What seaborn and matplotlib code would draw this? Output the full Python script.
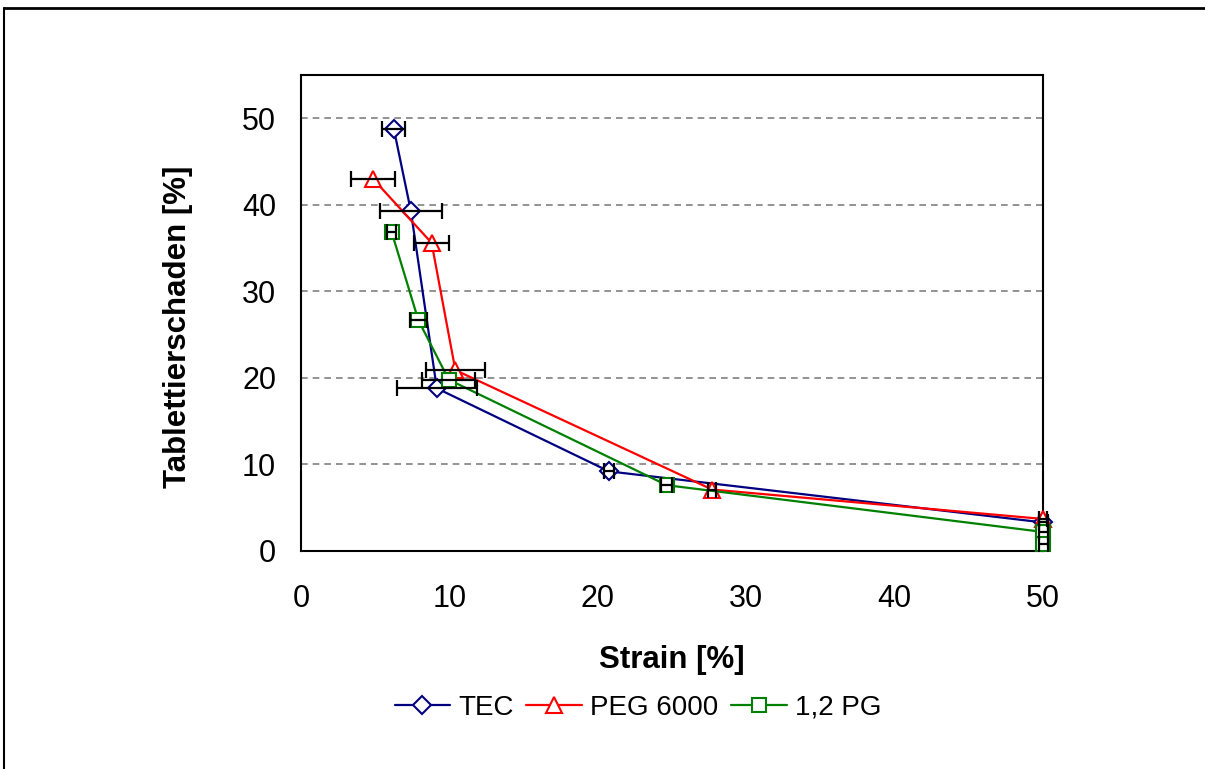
import pandas as pd
import matplotlib.pyplot as plt
from matplotlib.lines import Line2D
import seaborn as sns

sns.set_style("white")
plt.rcParams['font.family'] = ['Liberation Sans', 'DejaVu Sans']
plt.rcParams['text.color'] = 'black'
plt.rcParams['axes.labelcolor'] = 'black'

# TEC
tec_x = [6.25, 7.4, 9.15, 20.75, 50]
tec_y = [48.8, 39.3, 18.8, 9.2, 3.3]
tec_xerr = [0.78, 2.1, 2.7, 0.34, 0.3]

# PEG 6000
peg_x = [4.85, 8.8, 10.4, 27.7, 50]
peg_y = [43.0, 35.6, 20.9, 7.1, 3.7]
peg_xerr = [1.5, 1.2, 2.0, 0.25, 0.25]

# 1,2 PG
pg_x = [6.1, 7.9, 9.95, 24.65, 50, 50]
pg_y = [36.9, 26.7, 19.8, 7.6, 2.2, 0.8]
pg_xerr = [0.3, 0.57, 1.8, 0.37, 0.3, 0.3]

df = pd.concat([
    pd.DataFrame({'strain': tec_x, 'schaden': tec_y, 'xerr': tec_xerr, 'series': 'TEC'}),
    pd.DataFrame({'strain': peg_x, 'schaden': peg_y, 'xerr': peg_xerr, 'series': 'PEG 6000'}),
    pd.DataFrame({'strain': pg_x, 'schaden': pg_y, 'xerr': pg_xerr, 'series': '1,2 PG'}),
], ignore_index=True)

names = ['TEC', 'PEG 6000', '1,2 PG']
colors = {'TEC': '#000080', 'PEG 6000': '#ff0000', '1,2 PG': '#008000'}
markers = {'TEC': 'D', 'PEG 6000': '^', '1,2 PG': 's'}
sizes = {'TEC': 9, 'PEG 6000': 11, '1,2 PG': 10}

fig = plt.figure(figsize=(12.05, 7.69), dpi=100)
ax = fig.add_axes([0.2498, 0.2835, 0.6158, 0.619])

for name in names:
    d = df[df['series'] == name]
    sns.lineplot(data=d, x='strain', y='schaden', sort=False, estimator=None,
                 color=colors[name], marker=markers[name], markersize=sizes[name],
                 markerfacecolor='white', markeredgecolor=colors[name],
                 markeredgewidth=1.5, linewidth=1.6, label=name, ax=ax, zorder=3,
                 clip_on=False)

for name in names:
    d = df[df['series'] == name]
    eb = ax.errorbar(d['strain'], d['schaden'], xerr=d['xerr'], fmt='none',
                     ecolor='black', elinewidth=1.6, capsize=6, capthick=1.6, zorder=4)
    for art in eb.lines[1] + eb.lines[2]:
        art.set_clip_on(False)

ax.set_xlim(0, 50)
ax.set_ylim(0, 55)
ax.set_xticks(range(0, 51, 10))
ax.set_yticks(range(0, 51, 10))
for y in range(10, 51, 10):
    ax.axhline(y, color='#808080', linestyle=(0, (4, 3)), linewidth=1.2, zorder=1)

ax.tick_params(axis='both', labelsize=22, direction='inout', length=20, width=1.5,
               colors='black')
ax.tick_params(axis='x', pad=14)
ax.tick_params(axis='y', pad=8)
for s in ax.spines.values():
    s.set_color('black')
    s.set_linewidth(1.5)

ax.set_xlabel('Strain [%]', fontsize=22.5, fontweight='bold', labelpad=22)
ax.set_ylabel('Tablettierschaden [%]', fontsize=22.5, fontweight='bold')
ax.yaxis.set_label_coords(-0.146, 0.47)

ax.get_legend().remove()
handles = [Line2D([], [], color=colors[n], marker=markers[n], markersize=sizes[n],
                  markerfacecolor='white', markeredgewidth=1.5, linewidth=1.6)
           for n in names]
fig.legend(handles, names, loc='center',
           bbox_to_anchor=(638 / 1205, 1 - 708 / 769), ncol=3, frameon=False,
           fontsize=20, handlelength=2.0, handletextpad=0.3, columnspacing=0.45)

# outer chart border
fig.add_artist(Line2D([4 / 1205, 4 / 1205], [0, 1 - 8 / 769], color='black', linewidth=1.5))
fig.add_artist(Line2D([4 / 1205, 1], [1 - 8 / 769, 1 - 8 / 769], color='black', linewidth=2))

fig.savefig('out.png', dpi=100)
